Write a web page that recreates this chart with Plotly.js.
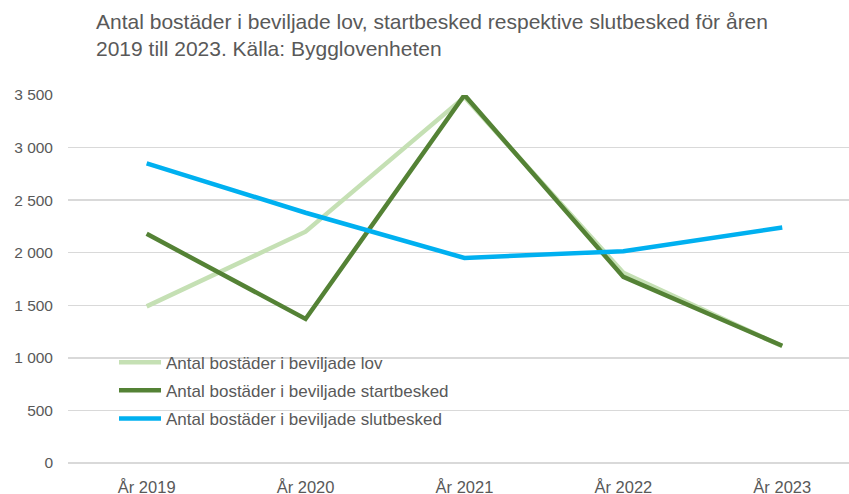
<!DOCTYPE html>
<html>
<head>
<meta charset="utf-8">
<script src="https://cdn.plot.ly/plotly-3.0.1.min.js"></script>
<style>html,body{margin:0;padding:0;background:#fff;}#chart{width:849px;height:494px;}</style>
</head>
<body>
<div id="chart"></div>
<script>
const categories = ["År 2019", "År 2020", "År 2021", "År 2022", "År 2023"];
const seriesNames = [
  "Antal bostäder i beviljade lov",
  "Antal bostäder i beviljade startbesked",
  "Antal bostäder i beviljade slutbesked"
];
const lovValues = [1490, 2200, 3480, 1810, 1110];
const startbeskedValues = [2180, 1370, 3500, 1770, 1115];
const slutbeskedValues = [2850, 2380, 1950, 2015, 2240];
const yTickVals = [0, 500, 1000, 1500, 2000, 2500, 3000, 3500];
const titleLine1 = "Antal bostäder i beviljade lov, startbesked respektive slutbesked för åren";
const titleLine2 = "2019 till 2023. Källa: Bygglovenheten";

const colors = ["#c5e0b4", "#548235", "#00b0f0"];
const values = [lovValues, startbeskedValues, slutbeskedValues];
const FONT = "Liberation Sans, Arial, sans-serif";
const TXT = "#595959";

const traces = values.map((v, i) => ({
  type: "scatter",
  mode: "lines",
  x: categories,
  y: v,
  name: seriesNames[i],
  legendgroup: "g" + i,
  line: {color: colors[i], width: 4.5},
  cliponaxis: false,
  hoverinfo: "x+y+name"
}));

const layout = {
  width: 849,
  height: 494,
  paper_bgcolor: "#ffffff",
  plot_bgcolor: "#ffffff",
  separators: ", ",
  margin: {l: 68, r: 0, t: 95, b: 31, pad: 0},
  showlegend: true,
  legend: {
    x: (114 - 68) / 781, y: 0.3215, xanchor: "left", yanchor: "top",
    bgcolor: "rgba(0,0,0,0)",
    font: {family: FONT, size: 17, color: TXT},
    tracegroupgap: 3,
    itemwidth: 42
  },
  title: {
    text: titleLine1 + "<br>" + titleLine2,
    x: 96 / 849, xref: "container", xanchor: "left",
    y: 1 - 29 / 494, yref: "container", yanchor: "top",
    font: {family: FONT, size: 21, color: TXT},
    pad: {t: 0, b: 0, l: 0, r: 0}
  },
  xaxis: {
    type: "category",
    range: [-0.495, 4.42],
    showgrid: false,
    showline: false,
    zeroline: false,
    ticks: "",
    ticklabelstandoff: 12,
    tickfont: {family: FONT, size: 16.5, color: TXT},
    fixedrange: true
  },
  yaxis: {
    range: [0, 3500],
    tickvals: yTickVals,
    tickformat: ",d",
    showgrid: true,
    gridcolor: "#d9d9d9",
    gridwidth: 1.5,
    zeroline: true,
    zerolinecolor: "#d9d9d9",
    zerolinewidth: 1.5,
    showline: false,
    ticks: "",
    ticklabelstandoff: 14,
    tickfont: {family: FONT, size: 15.5, color: TXT},
    fixedrange: true
  }
};

Plotly.newPlot("chart", traces, layout, {displayModeBar: false, staticPlot: true});
</script>
</body>
</html>
